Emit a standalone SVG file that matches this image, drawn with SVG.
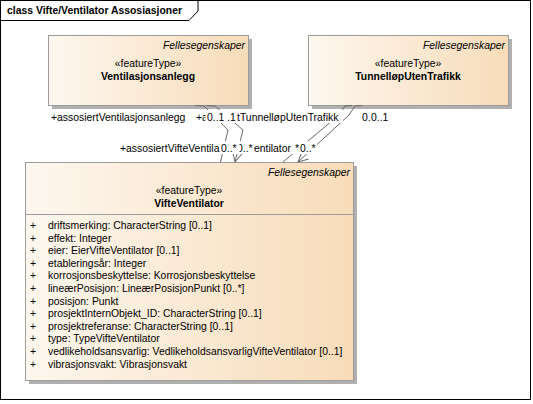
<svg xmlns="http://www.w3.org/2000/svg" width="533" height="404" viewBox="0 0 533 404">
<defs>
<linearGradient id="fill" x1="0" y1="0" x2="1" y2="0">
<stop offset="0" stop-color="#fdf7ef"/>
<stop offset="1" stop-color="#f8dcb9"/>
</linearGradient>
<marker id="open" markerWidth="12" markerHeight="12" refX="10" refY="5" orient="auto" markerUnits="userSpaceOnUse" viewBox="0 0 12 10">
<path d="M0,0 L10,5 L0,10" fill="none" stroke="#6a6a6a" stroke-width="1"/>
</marker>
<clipPath id="clipA"><rect x="190" y="105" width="15.5" height="20"/></clipPath>
<clipPath id="clipB"><rect x="239.5" y="136" width="20" height="20"/></clipPath>
</defs>
<style>
text{font-family:"Liberation Sans",Arial,sans-serif;font-size:10.4px;fill:#000}
.b{font-weight:bold}
.i{font-style:italic}
.m{text-anchor:middle}
.e{text-anchor:end}
.box{fill:url(#fill);stroke:#9c9c9c;stroke-width:1}
.sh{fill:#b0b0b0}
.ln{fill:none;stroke:#6a6a6a;stroke-width:1}
.bg{fill:#fff}
.attr{fill:#1a1a1a}
</style>
<rect x="0.5" y="0.5" width="530" height="399" fill="#fff" stroke="#000"/>
<path d="M0.5,20.5 H189 L198,11 V0.5" fill="none" stroke="#000"/>
<text class="b" x="7" y="14">class Vifte/Ventilator Assosiasjoner</text>

<g id="node-ventilasjonsanlegg">
<rect class="sh" x="52" y="39" width="200" height="70"/>
<rect class="box" x="48.5" y="35.5" width="200" height="70"/>
<text class="i e" x="245" y="49">Fellesegenskaper</text>
<text class="m" x="148" y="67">«featureType»</text>
<text class="b m" x="148" y="80">Ventilasjonsanlegg</text>
</g>

<g id="node-tunnellop">
<rect class="sh" x="312" y="39" width="200" height="70"/>
<rect class="box" x="308.5" y="35.5" width="200" height="70"/>
<text class="i e" x="505" y="49">Fellesegenskaper</text>
<text class="m" x="408" y="67">«featureType»</text>
<text class="b m" x="408" y="80">TunnelløpUtenTrafikk</text>
</g>

<g id="node-vifteventilator">
<rect class="sh" x="29" y="166" width="328" height="218"/>
<rect class="box" x="25.5" y="162.5" width="328" height="218"/>
<line x1="25.5" y1="214.5" x2="353.5" y2="214.5" stroke="#9c9c9c"/>
<text class="i e" x="350" y="176">Fellesegenskaper</text>
<text class="m" x="189" y="194">«featureType»</text>
<text class="b m" x="189" y="207">VifteVentilator</text>
<g class="attr">
<text x="30" y="229">+</text><text x="48" y="229">driftsmerking: CharacterString [0..1]</text>
<text x="30" y="241.6">+</text><text x="48" y="241.6">effekt: Integer</text>
<text x="30" y="254.2">+</text><text x="48" y="254.2">eier: EierVifteVentilator [0..1]</text>
<text x="30" y="266.8">+</text><text x="48" y="266.8">etableringsår: Integer</text>
<text x="30" y="279.4">+</text><text x="48" y="279.4">korrosjonsbeskyttelse: Korrosjonsbeskyttelse</text>
<text x="30" y="292">+</text><text x="48" y="292">lineærPosisjon: LineærPosisjonPunkt [0..*]</text>
<text x="30" y="304.6">+</text><text x="48" y="304.6">posisjon: Punkt</text>
<text x="30" y="317.2">+</text><text x="48" y="317.2">prosjektInternObjekt_ID: CharacterString [0..1]</text>
<text x="30" y="329.8">+</text><text x="48" y="329.8">prosjektreferanse: CharacterString [0..1]</text>
<text x="30" y="342.4">+</text><text x="48" y="342.4">type: TypeVifteVentilator</text>
<text x="30" y="355">+</text><text x="48" y="355">vedlikeholdsansvarlig: VedlikeholdsansvarligVifteVentilator [0..1]</text>
<text x="30" y="367.6">+</text><text x="48" y="367.6">vibrasjonsvakt: Vibrasjonsvakt</text>
</g>
</g>

<g id="connectors">
<polyline class="ln" points="195,105.5 204,106 228,130 220.5,162"/>
<polyline class="ln" points="206,105.5 215,106 243,130 235,162" marker-end="url(#open)"/>
<polyline class="ln" points="352,105.5 345,106 339,115 283,162"/>
<polyline class="ln" points="362,105.5 355,106 349,115 298,162" marker-end="url(#open)"/>
</g>

<g id="labels">
<rect class="bg" x="195" y="110" width="148" height="13"/>
<rect class="bg" x="361" y="110" width="28" height="13"/>
<rect class="bg" x="119" y="141" width="198" height="13"/>
<text x="51" y="120.5">+assosiertVentilasjonsanlegg</text>
<text x="196" y="120.5" clip-path="url(#clipA)">+a</text>
<text x="207" y="120.5">0..1</text>
<text x="227" y="120.5">.1</text>
<text x="237" y="120.5">tTunnelløpUtenTrafikk</text>
<text x="362" y="120.5">0.</text>
<text x="371" y="120.5">0..1</text>
<text x="120" y="151.5">+assosiertVifteVentila</text>
<text x="221" y="151.5">0..*</text>
<text x="237" y="151.5" clip-path="url(#clipB)">0..*</text>
<text x="254" y="151.5">entilator</text>
<text x="295" y="151.5">*</text>
<text x="300" y="151.5">0..*</text>
</g>
</svg>
